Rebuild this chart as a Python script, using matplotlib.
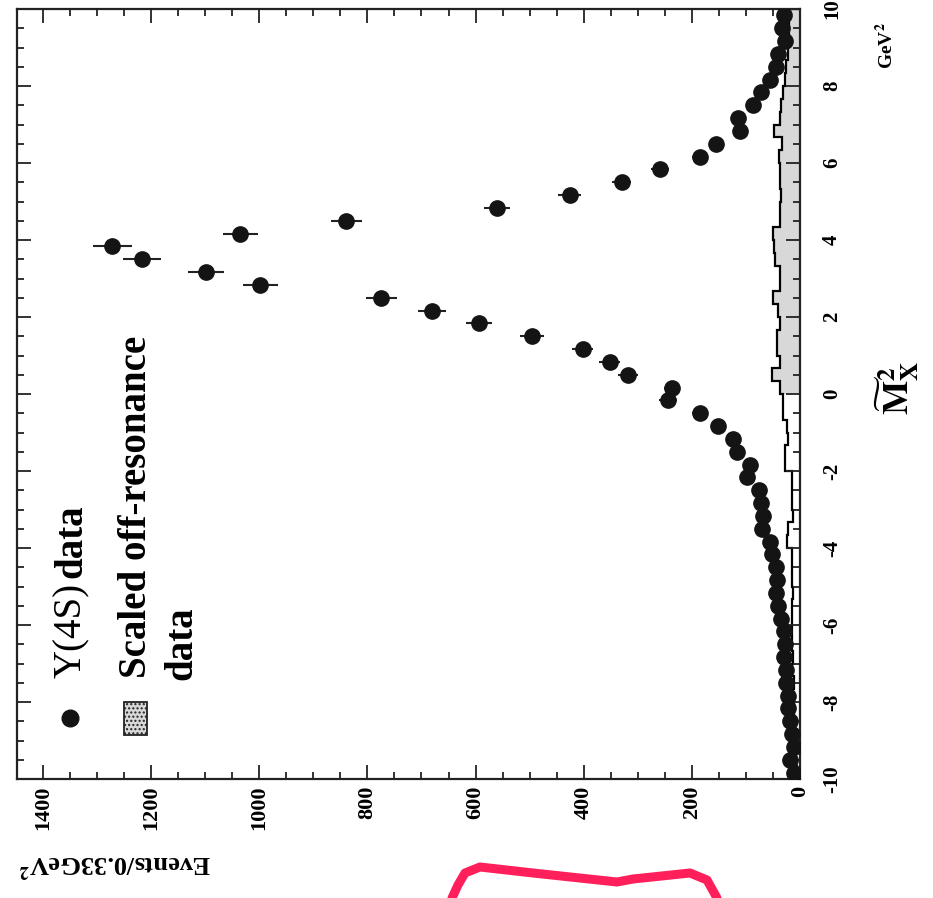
import numpy as np
import matplotlib
matplotlib.use("Agg")
import matplotlib.pyplot as plt
from matplotlib.ticker import MultipleLocator
from matplotlib.patches import Rectangle
from matplotlib.lines import Line2D

plt.rcParams['font.family'] = ['Liberation Serif', 'DejaVu Serif']
plt.rcParams['mathtext.fontset'] = 'stix'

# ---- data (bins of 1/3 GeV^2 from -10 to 10) ----
bin_edges_m2 = np.linspace(-10, 10, 61)
y4s_events = [12, 18, 12, 15, 18, 22, 22, 25, 26, 30, 28, 30, 36, 40, 45, 42, 45, 52, 55, 70,
              68, 72, 76, 98, 93, 117, 124, 152, 185, 244, 237, 318, 352, 402, 496, 593, 681, 774,
              998, 1098, 1217, 1272, 1035, 839, 561, 426, 330, 259, 185, 156, 111, 115, 87, 72,
              56, 45, 40, 28, 33, 30]
y4s_errors = [3, 4, 3, 4, 4, 5, 5, 5, 5, 5, 5, 5, 6, 6, 7, 6, 7, 7, 7, 8, 8, 8, 9,
              10, 10, 11, 11, 12, 14, 16, 15, 18, 19, 20, 22, 24, 26, 28, 32, 33, 35, 36,
              32, 29, 24, 21, 18, 16, 14, 12, 11, 11, 9, 8, 7, 7, 6, 5, 6, 5]
offres_events = [5, 8, 10, 12, 15, 12, 15, 12, 15, 13, 15, 15, 15, 15, 13, 15, 15, 15, 24, 22,
                 13, 15, 15, 15, 28, 28, 22, 24, 31, 31,
                 37, 52, 37, 43, 43, 37, 40, 50, 37, 37, 46, 48, 50, 37, 37, 35, 37, 37, 38, 33,
                 48, 37, 36, 31, 28, 25, 22, 22, 20, 20]
events_ticks = [0, 200, 400, 600, 800, 1000, 1200, 1400]
m2_ticks = [-10, -8, -6, -4, -2, 0, 2, 4, 6, 8, 10]

centers = 0.5 * (bin_edges_m2[:-1] + bin_edges_m2[1:])

W, H = 933, 898
fig = plt.figure(figsize=(W / 100, H / 100), dpi=100)
ax = fig.add_axes([17 / W, 1 - 779 / H, 783 / W, 770 / H])

# off-resonance histogram (shaded above 0)
half = 30
ax.stairs(offres_events[half:], bin_edges_m2[half:], orientation='horizontal', baseline=0,
          fill=True, facecolor='#d8d8d8', edgecolor='none', hatch='....', lw=0)
ax.stairs(offres_events, bin_edges_m2, orientation='horizontal', baseline=0,
          fill=False, color='black', lw=1.6)

# Y(4S) data
ax.errorbar(y4s_events, centers, xerr=y4s_errors, fmt='o', ms=11, color='#141414',
            ecolor='#222222', elinewidth=1.5, capsize=0, zorder=3)

ax.set_xlim(1448, 0)
ax.set_ylim(-10, 10)
ax.set_xticks(events_ticks)
ax.set_xticklabels([str(v) for v in events_ticks], fontweight='bold', fontsize=16, rotation=90)
ax.xaxis.set_minor_locator(MultipleLocator(50))
ax.set_yticks(m2_ticks)
ax.set_yticklabels([str(v) for v in m2_ticks], fontweight='bold', fontsize=15)
ax.yaxis.set_minor_locator(MultipleLocator(0.5))
ax.tick_params(axis='both', which='both', direction='in', top=True, bottom=True,
               left=True, right=True, width=1.3, color='#222222')
ax.tick_params(which='major', length=10)
ax.tick_params(which='minor', length=5)
ax.tick_params(axis='x', pad=5)
ax.tick_params(axis='y', labelleft=False, labelright=True, pad=16)
for t in ax.yaxis.get_major_ticks():
    t.label2.set_rotation(90)
    t.label2.set_va('center')
    t.label2.set_ha('left')
for s in ax.spines.values():
    s.set_linewidth(1.6)
    s.set_color('#222222')

# legend drawn in rotated orientation
def axc(px, py):
    return ((px - 17) / 783, (779 - py) / 770)

ax.plot(*axc(70, 718), 'o', ms=12, color='#141414', transform=ax.transAxes, clip_on=False)
bx0, by0 = axc(124, 735)
ax.add_patch(Rectangle((bx0, by0), 23 / 783, 33 / 770, transform=ax.transAxes,
                       facecolor='#d8d8d8', hatch='....', edgecolor='#222222', lw=1.3))
tx, ty = axc(72, 678)
ax.text(tx, ty, 'Y(4S)', rotation=90, rotation_mode='anchor', ha='left', va='center',
        fontsize=28, transform=ax.transAxes)
tx, ty = axc(72, 578)
ax.text(tx, ty, 'data', rotation=90, rotation_mode='anchor', ha='left', va='center',
        fontsize=28, fontweight='bold', transform=ax.transAxes)
tx, ty = axc(136, 678)
ax.text(tx, ty, 'Scaled off-resonance', rotation=90, rotation_mode='anchor', ha='left',
        va='center', fontsize=28, fontweight='bold', transform=ax.transAxes)
tx, ty = axc(182, 680)
ax.text(tx, ty, 'data', rotation=90, rotation_mode='anchor', ha='left', va='center',
        fontsize=28, fontweight='bold', transform=ax.transAxes)

# axis labels
fig.text(115 / W, 1 - 864 / H, 'Events/0.33GeV$^{\\mathbf{2}}$', rotation=180, ha='center',
         va='center', fontsize=19, fontweight='bold')
fig.text(886 / W, 1 - 46 / H, 'GeV$^{\\mathbf{2}}$', rotation=90, ha='center', va='center',
         fontsize=14, fontweight='bold')
fig.text(897 / W, 1 - 388 / H, r'$\widetilde{\mathbf{M}}_{\mathbf{X}}^{\mathbf{2}}$',
         rotation=90, ha='center', va='center', fontsize=26)

# pink hand-drawn stroke at the bottom
sx = [452, 458, 465, 480, 533, 617, 633, 690, 707, 717]
sy = [898, 885, 873, 867, 873, 882, 879, 873, 880, 898]
fig.add_artist(Line2D([x / W for x in sx], [1 - y / H for y in sy], color='#ff1f5a',
                      lw=6.5, solid_capstyle='round', solid_joinstyle='round'))

fig.savefig('out.png', dpi=100)
